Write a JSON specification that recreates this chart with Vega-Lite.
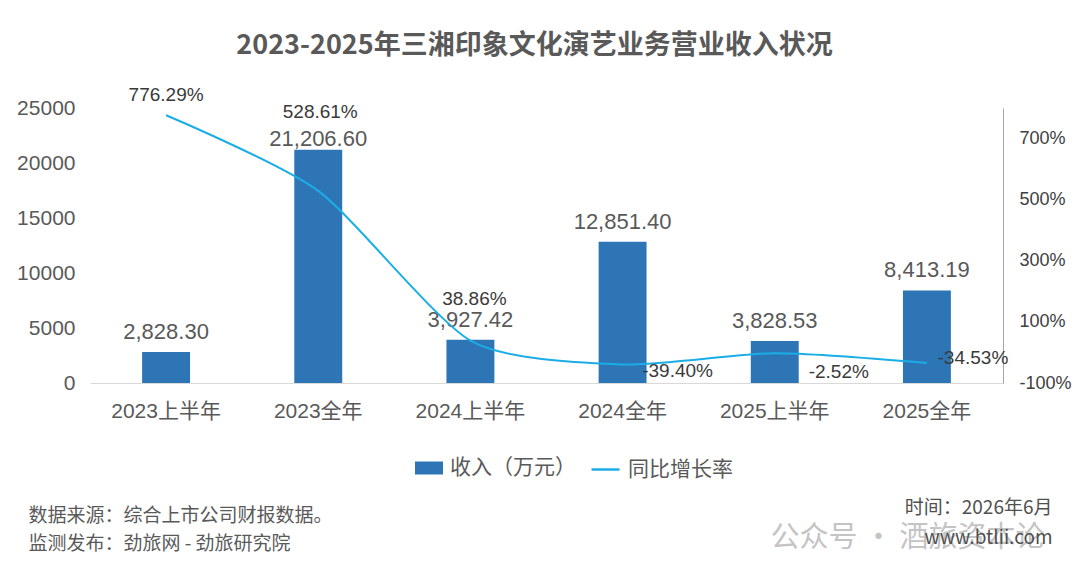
{
  "$schema": "https://vega.github.io/schema/vega-lite/v6.json",
  "description": "2023-2025年三湘印象文化演艺业务营业收入与同比增长率",
  "width": 913,
  "height": 275,
  "autosize": {"type": "none"},
  "padding": {"left": 90, "top": 108, "right": 77, "bottom": 195},
  "background": "white",
  "title": {
    "text": "2023-2025年三湘印象文化演艺业务营业收入状况",
    "font": "Noto Sans CJK SC",
    "fontSize": 27,
    "fontWeight": "bold",
    "color": "#595959",
    "anchor": "middle",
    "frame": "group",
    "dx": -12,
    "offset": 26
  },
  "config": {
    "font": "Liberation Sans, Noto Sans CJK SC",
    "view": {"stroke": null},
    "locale": {
      "number": {"decimal": ".", "thousands": ",", "grouping": [3], "currency": ["", ""], "minus": "-"}
    },
    "axis": {"grid": false, "ticks": false, "tickSize": 0, "titleFont": "Noto Sans CJK SC", "titleFontWeight": "normal"},
    "legend": {"padding": 0, "labelFont": "Noto Sans CJK SC", "labelFontSize": 21, "labelColor": "#595959", "labelOffset": 7}
  },
  "data": {
    "values": [
      {"period": "2023上半年", "revenue": 2828.30, "yoy": 7.7629},
      {"period": "2023全年", "revenue": 21206.60, "yoy": 5.2861},
      {"period": "2024上半年", "revenue": 3927.42, "yoy": 0.3886},
      {"period": "2024全年", "revenue": 12851.40, "yoy": -0.3940},
      {"period": "2025上半年", "revenue": 3828.53, "yoy": -0.0252},
      {"period": "2025全年", "revenue": 8413.19, "yoy": -0.3453}
    ]
  },
  "encoding": {
    "x": {
      "field": "period",
      "type": "nominal",
      "sort": null,
      "scale": {"paddingInner": 0.685, "paddingOuter": 0.3425},
      "axis": {
        "labelAngle": 0,
        "labelFontSize": 21,
        "labelColor": "#595959",
        "labelPadding": 17,
        "domainColor": "#d9d9d9",
        "title": ["数据来源：综合上市公司财报数据。", "监测发布：劲旅网 - 劲旅研究院"],
        "titleFontSize": 19,
        "titleColor": "#595959",
        "titleAlign": "left",
        "titleAnchor": "start",
        "titleBaseline": "top",
        "titleLineHeight": 28,
        "titleX": -62,
        "titleY": 123
      }
    }
  },
  "layer": [
    {
      "encoding": {
        "y": {
          "field": "revenue",
          "type": "quantitative",
          "scale": {"domain": [0, 25000], "nice": false},
          "axis": {
            "orient": "left",
            "values": [0, 5000, 10000, 15000, 20000, 25000],
            "format": "d",
            "domain": false,
            "labelFontSize": 21,
            "labelColor": "#595959",
            "labelPadding": 15,
            "title": "公众号 · 酒旅资本论",
            "titleAngle": 0,
            "titleAlign": "left",
            "titleBaseline": "middle",
            "titleX": 680,
            "titleY": 429,
            "titleFontSize": 29,
            "titleColor": "#c4c4c4"
          }
        }
      },
      "layer": [
        {
          "mark": {"type": "bar"},
          "encoding": {
            "fill": {
              "datum": "收入（万元）",
              "type": "nominal",
              "scale": {"range": ["#2E75B6"]},
              "legend": {
                "orient": "none",
                "title": null,
                "legendX": 325,
                "legendY": 346,
                "symbolType": "M-1,-0.464H1V0.464H-1Z",
                "symbolSize": 784,
                "symbolStrokeWidth": 0
              }
            }
          }
        },
        {
          "transform": [{"filter": "datum.period !== '2023全年'"}],
          "mark": {"type": "text", "fontSize": 22, "color": "#595959", "baseline": "middle", "dy": -20},
          "encoding": {"text": {"field": "revenue", "type": "quantitative", "format": ",.2f"}}
        },
        {
          "transform": [{"filter": "datum.period === '2023全年'"}],
          "mark": {"type": "text", "fontSize": 22, "color": "#595959", "baseline": "middle", "dy": -11},
          "encoding": {"text": {"field": "revenue", "type": "quantitative", "format": ",.2f"}}
        }
      ]
    },
    {
      "encoding": {
        "y": {
          "field": "yoy",
          "type": "quantitative",
          "scale": {"domain": [-1, 8], "nice": false, "zero": false},
          "axis": {
            "orient": "right",
            "values": [-1, 1, 3, 5, 7],
            "format": ".0%",
            "domain": true,
            "domainColor": "#a6a6a6",
            "labelFontSize": 18,
            "labelColor": "#404040",
            "labelPadding": 16,
            "title": ["时间：2026年6月", "www.btlii.com"],
            "titleAngle": 0,
            "titleAlign": "right",
            "titleBaseline": "top",
            "titleLineHeight": 30,
            "titleX": 49,
            "titleY": 390,
            "titleFontSize": 19,
            "titleColor": "#505050"
          }
        }
      },
      "layer": [
        {
          "mark": {"type": "line", "interpolate": "cardinal", "tension": 0.3, "strokeWidth": 2},
          "encoding": {
            "stroke": {
              "datum": "同比增长率",
              "type": "nominal",
              "scale": {"range": ["#1BAEE6"]},
              "legend": {
                "orient": "none",
                "title": null,
                "legendX": 500,
                "legendY": 346,
                "symbolType": "stroke",
                "symbolSize": 784,
                "symbolStrokeWidth": 2.5
              }
            }
          }
        },
        {
          "transform": [{"filter": "datum.period === '2023上半年'"}],
          "mark": {"type": "text", "fontSize": 19, "color": "#3a3a3a", "baseline": "middle", "dx": 0, "dy": -20},
          "encoding": {"text": {"field": "yoy", "type": "quantitative", "format": ".2%"}}
        },
        {
          "transform": [{"filter": "datum.period === '2023全年'"}],
          "mark": {"type": "text", "fontSize": 19, "color": "#3a3a3a", "baseline": "middle", "dx": 2, "dy": -79},
          "encoding": {"text": {"field": "yoy", "type": "quantitative", "format": ".2%"}}
        },
        {
          "transform": [{"filter": "datum.period === '2024上半年'"}],
          "mark": {"type": "text", "fontSize": 19, "color": "#3a3a3a", "baseline": "middle", "dx": 4, "dy": -42},
          "encoding": {"text": {"field": "yoy", "type": "quantitative", "format": ".2%"}}
        },
        {
          "transform": [{"filter": "datum.period === '2024全年'"}],
          "mark": {"type": "text", "fontSize": 19, "color": "#3a3a3a", "baseline": "middle", "dx": 55, "dy": 7},
          "encoding": {"text": {"field": "yoy", "type": "quantitative", "format": ".2%"}}
        },
        {
          "transform": [{"filter": "datum.period === '2025上半年'"}],
          "mark": {"type": "text", "fontSize": 19, "color": "#3a3a3a", "baseline": "middle", "dx": 64, "dy": 19},
          "encoding": {"text": {"field": "yoy", "type": "quantitative", "format": ".2%"}}
        },
        {
          "transform": [{"filter": "datum.period === '2025全年'"}],
          "mark": {"type": "text", "fontSize": 19, "color": "#3a3a3a", "baseline": "middle", "dx": 46, "dy": -5},
          "encoding": {"text": {"field": "yoy", "type": "quantitative", "format": ".2%"}}
        }
      ]
    }
  ],
  "resolve": {"scale": {"y": "independent"}}
}
